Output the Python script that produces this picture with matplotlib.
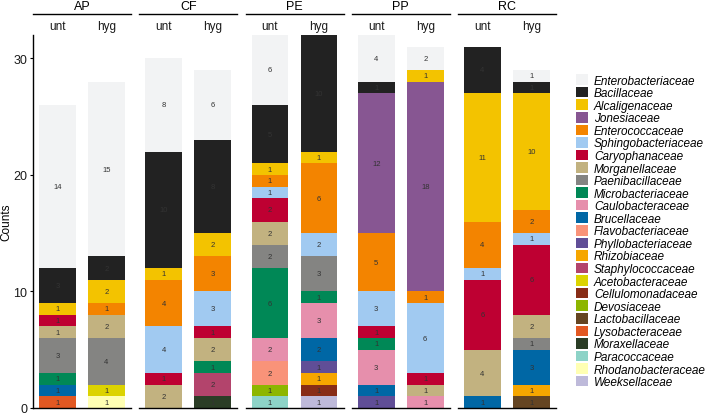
import matplotlib
matplotlib.use('Agg')
import matplotlib.pyplot as plt
from matplotlib.patches import Patch
import numpy as np

plt.rcParams['font.family'] = ['Liberation Sans', 'DejaVu Sans']

families = ['Enterobacteriaceae', 'Bacillaceae', 'Alcaligenaceae', 'Jonesiaceae',
            'Enterococcaceae', 'Sphingobacteriaceae', 'Caryophanaceae', 'Morganellaceae',
            'Paenibacillaceae', 'Microbacteriaceae', 'Caulobacteraceae', 'Brucellaceae',
            'Flavobacteriaceae', 'Phyllobacteriaceae', 'Rhizobiaceae', 'Staphylococcaceae',
            'Acetobacteraceae', 'Cellulomonadaceae', 'Devosiaceae', 'Lactobacillaceae',
            'Lysobacteraceae', 'Moraxellaceae', 'Paracoccaceae', 'Rhodanobacteraceae',
            'Weeksellaceae']
colors = ['#F2F3F4', '#222222', '#F3C300', '#875692', '#F38400', '#A1CAF1', '#BE0032',
          '#C2B280', '#848482', '#008856', '#E68FAC', '#0067A5', '#F99379', '#604E97',
          '#F6A600', '#B3446C', '#DCD300', '#882D17', '#8DB600', '#654522', '#E25822',
          '#2B3D26', '#8DD3C7', '#FFFFB3', '#BEBADA']

sites = ['AP', 'CF', 'PE', 'PP', 'RC']
treatments = ['unt', 'hyg']

# counts per sample, family -> count
counts = {
    ('AP', 'unt'): {'Enterobacteriaceae': 14, 'Bacillaceae': 3, 'Alcaligenaceae': 1,
                    'Caryophanaceae': 1, 'Morganellaceae': 1, 'Paenibacillaceae': 3,
                    'Microbacteriaceae': 1, 'Brucellaceae': 1, 'Lysobacteraceae': 1},
    ('AP', 'hyg'): {'Enterobacteriaceae': 15, 'Bacillaceae': 2, 'Alcaligenaceae': 2,
                    'Enterococcaceae': 1, 'Morganellaceae': 2, 'Paenibacillaceae': 4,
                    'Acetobacteraceae': 1, 'Rhodanobacteraceae': 1},
    ('CF', 'unt'): {'Enterobacteriaceae': 8, 'Bacillaceae': 10, 'Alcaligenaceae': 1,
                    'Enterococcaceae': 4, 'Sphingobacteriaceae': 4, 'Caryophanaceae': 1,
                    'Morganellaceae': 2},
    ('CF', 'hyg'): {'Enterobacteriaceae': 6, 'Bacillaceae': 8, 'Alcaligenaceae': 2,
                    'Enterococcaceae': 3, 'Sphingobacteriaceae': 3, 'Caryophanaceae': 1,
                    'Morganellaceae': 2, 'Microbacteriaceae': 1, 'Staphylococcaceae': 2,
                    'Moraxellaceae': 1},
    ('PE', 'unt'): {'Enterobacteriaceae': 6, 'Bacillaceae': 5, 'Alcaligenaceae': 1,
                    'Enterococcaceae': 1, 'Sphingobacteriaceae': 1, 'Caryophanaceae': 2,
                    'Morganellaceae': 2, 'Paenibacillaceae': 2, 'Microbacteriaceae': 6,
                    'Caulobacteraceae': 2, 'Flavobacteriaceae': 2, 'Devosiaceae': 1,
                    'Paracoccaceae': 1},
    ('PE', 'hyg'): {'Bacillaceae': 10, 'Alcaligenaceae': 1, 'Enterococcaceae': 6,
                    'Sphingobacteriaceae': 2, 'Paenibacillaceae': 3, 'Microbacteriaceae': 1,
                    'Caulobacteraceae': 3, 'Brucellaceae': 2, 'Phyllobacteriaceae': 1,
                    'Rhizobiaceae': 1, 'Cellulomonadaceae': 1, 'Weeksellaceae': 1},
    ('PP', 'unt'): {'Enterobacteriaceae': 4, 'Bacillaceae': 1, 'Jonesiaceae': 12,
                    'Enterococcaceae': 5, 'Sphingobacteriaceae': 3, 'Caryophanaceae': 1,
                    'Microbacteriaceae': 1, 'Caulobacteraceae': 3, 'Brucellaceae': 1,
                    'Phyllobacteriaceae': 1},
    ('PP', 'hyg'): {'Enterobacteriaceae': 2, 'Alcaligenaceae': 1, 'Jonesiaceae': 18,
                    'Enterococcaceae': 1, 'Sphingobacteriaceae': 6, 'Caryophanaceae': 1,
                    'Morganellaceae': 1, 'Caulobacteraceae': 1},
    ('RC', 'unt'): {'Bacillaceae': 4, 'Alcaligenaceae': 11, 'Enterococcaceae': 4,
                    'Sphingobacteriaceae': 1, 'Caryophanaceae': 6, 'Morganellaceae': 4,
                    'Brucellaceae': 1},
    ('RC', 'hyg'): {'Enterobacteriaceae': 1, 'Bacillaceae': 1, 'Alcaligenaceae': 10,
                    'Enterococcaceae': 2, 'Sphingobacteriaceae': 1, 'Caryophanaceae': 6,
                    'Morganellaceae': 2, 'Paenibacillaceae': 1, 'Brucellaceae': 3,
                    'Rhizobiaceae': 1, 'Lactobacillaceae': 1},
}

W, H = 709, 414
fig = plt.figure(figsize=(W / 100, H / 100), dpi=100)

top, bottom = 36, 409
pw, step, left0 = 98, 106.25, 33
for i, site in enumerate(sites):
    x0 = left0 + i * step
    ax = fig.add_axes([x0 / W, (H - bottom) / H, pw / W, (bottom - top) / H])
    for j, tr in enumerate(treatments):
        c = counts[(site, tr)]
        base = 0
        for fam, col in zip(families[::-1], colors[::-1]):
            v = c.get(fam, 0)
            if v == 0:
                continue
            ax.bar(j + 1, v, bottom=base, width=0.75, color=col, linewidth=0)
            ax.text(j + 1, base + v / 2, str(v), ha='center', va='center',
                    fontsize=5.5, color='#333333')
            base += v
    ax.set_xlim(0.5, 2.5)
    ax.set_ylim(0, 32)
    ax.xaxis.tick_top()
    ax.set_xticks([1, 2])
    ax.set_xticklabels(treatments, fontsize=8.5, color='#1a1a1a')
    ax.tick_params(axis='x', length=0, pad=2)
    for s in ['top', 'right']:
        ax.spines[s].set_visible(False)
    ax.spines['bottom'].set_linewidth(1.0)
    if i == 0:
        ax.set_yticks([0, 10, 20, 30])
        ax.tick_params(axis='y', labelsize=9, length=2.5, width=0.8, pad=1.5,
                       labelcolor='#1a1a1a')
        ax.set_ylabel('Counts', fontsize=8.5, labelpad=1)
        ax.spines['left'].set_linewidth(1.0)
    else:
        ax.set_yticks([])
        ax.spines['left'].set_visible(False)
    # strip
    ly = (bottom - 15) / (bottom - top)
    ax.plot([0, 1], [ly, ly], color='black', lw=1.0, transform=ax.transAxes, clip_on=False)
    ax.text(0.5, (bottom - 7) / (bottom - top), site, ha='center', va='center',
            fontsize=9, transform=ax.transAxes)

handles = [Patch(facecolor=c, edgecolor='none') for c in colors]
fig.legend(handles, families, loc='upper left', bbox_to_anchor=(568 / W, 1 - 67 / H),
           frameon=False, prop={'style': 'italic', 'size': 8.5},
           handlelength=1.0, handleheight=1.0, handletextpad=0.5,
           labelspacing=0.02, borderpad=0.2)

fig.savefig('out.png', dpi=100)
